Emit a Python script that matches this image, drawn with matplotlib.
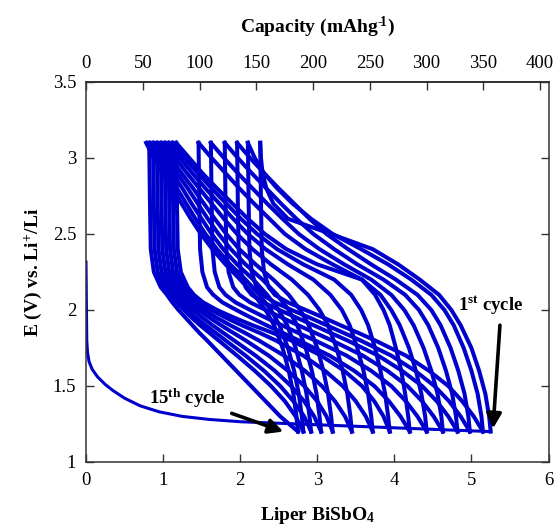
import matplotlib
matplotlib.use("Agg")
import matplotlib.pyplot as plt
from matplotlib.ticker import FuncFormatter

plt.rcParams["font.family"] = ["Liberation Serif", "DejaVu Serif"]
plt.rcParams["mathtext.fontset"] = "custom"
plt.rcParams["mathtext.rm"] = "Liberation Serif:bold"
plt.rcParams["mathtext.bf"] = "Liberation Serif:bold"
plt.rcParams["mathtext.it"] = "Liberation Serif:bold:italic"

# ---- data -------------------------------------------------------------
# mAh/g delivered per inserted Li in BiSbO4
LI_TO_MAH = 67.9

# first discharge (open circuit -> 1.2 V)
first_x = [0.00, 0.005, 0.01, 0.02, 0.04, 0.08, 0.15, 0.25, 0.35, 0.50, 0.70,
           0.95, 1.25, 1.60, 2.00, 2.50, 3.00, 3.50, 4.00, 4.50, 5.00, 5.25]
first_v = [2.32, 2.05, 1.80, 1.72, 1.66, 1.61, 1.56, 1.51, 1.47, 1.42, 1.37,
           1.33, 1.30, 1.28, 1.265, 1.255, 1.245, 1.235, 1.225, 1.215, 1.205, 1.20]

# charge curves: Li content at each voltage of charge_v, cycles 1..15
charge_v = [1.20, 1.30, 1.45, 1.60, 1.75, 1.90, 2.00, 2.10, 2.20,
            2.30, 2.40, 2.50, 2.60, 2.70, 2.80, 2.90, 3.00, 3.10]
charge_x = [
    [5.25, 5.23, 5.18, 5.10, 5.00, 4.86, 4.74, 4.58, 4.33, 4.05, 3.72, 3.18, 2.62, 2.43, 2.34, 2.29, 2.27, 2.26],
    [5.15, 5.13, 5.08, 5.00, 4.90, 4.77, 4.65, 4.48, 4.22, 3.92, 3.57, 3.20, 2.92, 2.68, 2.48, 2.31, 2.19, 2.10],
    [4.98, 4.96, 4.91, 4.83, 4.73, 4.60, 4.48, 4.30, 4.02, 3.70, 3.40, 3.12, 2.90, 2.70, 2.50, 2.31, 2.13, 1.96],
    [4.82, 4.80, 4.75, 4.67, 4.57, 4.44, 4.32, 4.14, 3.86, 3.52, 3.22, 2.95, 2.73, 2.53, 2.34, 2.15, 1.97, 1.80],
    [4.63, 4.61, 4.56, 4.48, 4.38, 4.25, 4.13, 3.96, 3.70, 3.35, 3.03, 2.76, 2.55, 2.35, 2.16, 1.97, 1.79, 1.62],
    [4.42, 4.40, 4.35, 4.28, 4.19, 4.07, 3.96, 3.82, 3.58, 3.20, 2.85, 2.58, 2.38, 2.18, 1.99, 1.81, 1.63, 1.46],
    [4.20, 4.18, 4.14, 4.09, 4.02, 3.94, 3.86, 3.75, 3.58, 3.00, 2.60, 2.32, 2.10, 1.90, 1.70, 1.51, 1.34, 1.17],
    [3.94, 3.92, 3.88, 3.82, 3.75, 3.66, 3.57, 3.44, 3.22, 2.82, 2.48, 2.22, 2.01, 1.82, 1.63, 1.45, 1.28, 1.12],
    [3.72, 3.70, 3.66, 3.60, 3.52, 3.42, 3.32, 3.17, 2.95, 2.62, 2.33, 2.10, 1.91, 1.73, 1.55, 1.38, 1.22, 1.07],
    [3.45, 3.43, 3.39, 3.33, 3.25, 3.14, 3.03, 2.88, 2.67, 2.40, 2.16, 1.96, 1.79, 1.63, 1.47, 1.31, 1.16, 1.02],
    [3.20, 3.18, 3.14, 3.08, 3.00, 2.89, 2.78, 2.63, 2.43, 2.20, 1.99, 1.82, 1.67, 1.53, 1.39, 1.24, 1.10, 0.97],
    [3.05, 3.03, 2.99, 2.93, 2.85, 2.74, 2.63, 2.48, 2.29, 2.07, 1.88, 1.72, 1.58, 1.45, 1.32, 1.18, 1.05, 0.92],
    [2.92, 2.90, 2.86, 2.80, 2.72, 2.61, 2.50, 2.35, 2.17, 1.96, 1.78, 1.63, 1.50, 1.37, 1.25, 1.12, 0.99, 0.87],
    [2.82, 2.80, 2.76, 2.70, 2.62, 2.51, 2.40, 2.25, 2.07, 1.87, 1.70, 1.55, 1.42, 1.30, 1.18, 1.05, 0.93, 0.82],
    [2.75, 2.73, 2.69, 2.63, 2.55, 2.44, 2.33, 2.18, 2.00, 1.81, 1.64, 1.49, 1.36, 1.24, 1.12, 1.00, 0.88, 0.78],
]

# discharge curves: Li content at each voltage of discharge_v, cycles 2..15
discharge_v = [3.10, 2.70, 2.40, 2.25, 2.15, 2.10, 2.05, 2.00, 1.95,
               1.90, 1.85, 1.80, 1.70, 1.60, 1.50, 1.40, 1.30, 1.20]
discharge_x = [
    [2.26, 2.27, 2.28, 2.31, 2.37, 2.45, 2.62, 2.85, 3.08, 3.30, 3.53, 3.75, 4.15, 4.45, 4.70, 4.88, 5.03, 5.15],
    [2.10, 2.11, 2.12, 2.15, 2.21, 2.29, 2.45, 2.67, 2.90, 3.12, 3.34, 3.56, 3.96, 4.27, 4.52, 4.71, 4.86, 4.98],
    [1.96, 1.97, 1.98, 2.01, 2.07, 2.15, 2.30, 2.51, 2.73, 2.95, 3.17, 3.39, 3.79, 4.10, 4.36, 4.55, 4.70, 4.82],
    [1.80, 1.81, 1.82, 1.85, 1.91, 1.99, 2.13, 2.33, 2.54, 2.75, 2.97, 3.19, 3.59, 3.91, 4.17, 4.36, 4.51, 4.63],
    [1.62, 1.63, 1.64, 1.67, 1.73, 1.81, 1.94, 2.13, 2.33, 2.54, 2.75, 2.97, 3.38, 3.70, 3.96, 4.15, 4.30, 4.42],
    [1.46, 1.47, 1.48, 1.51, 1.57, 1.65, 1.77, 1.95, 2.14, 2.34, 2.55, 2.76, 3.16, 3.48, 3.74, 3.93, 4.08, 4.20],
    [1.17, 1.18, 1.19, 1.23, 1.32, 1.40, 1.52, 1.70, 1.92, 2.16, 2.42, 2.66, 3.05, 3.35, 3.58, 3.74, 3.86, 3.94],
    [1.12, 1.13, 1.14, 1.18, 1.27, 1.35, 1.46, 1.62, 1.81, 2.02, 2.25, 2.46, 2.82, 3.10, 3.33, 3.50, 3.63, 3.72],
    [1.07, 1.08, 1.09, 1.13, 1.22, 1.30, 1.40, 1.53, 1.69, 1.87, 2.06, 2.24, 2.57, 2.84, 3.06, 3.23, 3.36, 3.45],
    [1.02, 1.03, 1.04, 1.08, 1.17, 1.25, 1.34, 1.46, 1.60, 1.75, 1.91, 2.07, 2.37, 2.62, 2.83, 3.00, 3.12, 3.20],
    [0.97, 0.98, 0.99, 1.03, 1.12, 1.20, 1.29, 1.39, 1.51, 1.64, 1.78, 1.92, 2.20, 2.45, 2.66, 2.83, 2.96, 3.05],
    [0.92, 0.93, 0.94, 0.98, 1.07, 1.15, 1.23, 1.32, 1.43, 1.55, 1.68, 1.81, 2.07, 2.31, 2.52, 2.69, 2.83, 2.92],
    [0.87, 0.88, 0.89, 0.93, 1.02, 1.10, 1.18, 1.27, 1.37, 1.48, 1.60, 1.72, 1.96, 2.19, 2.40, 2.58, 2.72, 2.82],
    [0.82, 0.83, 0.84, 0.88, 0.97, 1.05, 1.12, 1.20, 1.29, 1.38, 1.47, 1.57, 1.76, 1.95, 2.14, 2.33, 2.52, 2.75],
]

x_ticks = [0, 1, 2, 3, 4, 5, 6]
y_ticks = [1, 1.5, 2, 2.5, 3, 3.5]
cap_ticks = [0, 50, 100, 150, 200, 250, 300, 350, 400]

# ---- figure -----------------------------------------------------------
BLUE = "#0000cd"
fig = plt.figure(figsize=(5.55, 5.28), dpi=100)
ax = fig.add_axes([86 / 555, 1 - 462 / 528, (548.5 - 86) / 555, 380 / 528])

ax.plot(first_x, first_v, color=BLUE, lw=2.2, solid_capstyle="round")
for xs in charge_x:
    ax.plot(xs, charge_v, color=BLUE, lw=2.9, solid_joinstyle="round")
for xs in discharge_x:
    ax.plot(xs, discharge_v, color=BLUE, lw=2.9, solid_joinstyle="round")

ax.set_xlim(0, 6)
ax.set_ylim(1, 3.5)
ax.set_xticks(x_ticks)
ax.set_yticks(y_ticks)
ax.yaxis.set_major_formatter(FuncFormatter(lambda v, _: f"{v:g}"))
ax.tick_params(direction="in", length=6, width=1, labelsize=13.5,
               top=False, right=True, pad=7, color="#333333")
for sp in ax.spines.values():
    sp.set_linewidth(1.1)
    sp.set_color("#333333")

sec = ax.secondary_xaxis("top", functions=(lambda x: x * LI_TO_MAH,
                                           lambda c: c / LI_TO_MAH))
sec.set_xticks(cap_ticks)
sec.tick_params(direction="in", length=6, width=1, labelsize=13.5, pad=7,
                color="#333333")
sec.spines["top"].set_linewidth(1.1)
sec.set_xlabel("Capacity (mAhg$^{\u2010\\!1}$)", fontsize=14,
               fontweight="bold", labelpad=17)

ax.set_xlabel(r"Liper BiSbO$_4$", fontsize=14, fontweight="bold", labelpad=12)
ax.set_ylabel(r"E (V) vs. Li$^{+}$/Li", fontsize=14, fontweight="bold",
              labelpad=6)

# cycle labels with arrows
ax.text(5.25, 2.03, r"1$^{\mathrm{st}}$ cycle", fontsize=13.5,
        fontweight="bold", ha="center", va="center")
ax.annotate("", xy=(5.28, 1.22), xytext=(5.37, 1.90),
            arrowprops=dict(arrowstyle="-|>", color="black", lw=2.6,
                            mutation_scale=22, shrinkA=0, shrinkB=0))
ax.text(1.31, 1.42, r"15$^{\mathrm{th}}$ cycle", fontsize=13.5,
        fontweight="bold", ha="center", va="center")
ax.annotate("", xy=(2.56, 1.20), xytext=(1.89, 1.32),
            arrowprops=dict(arrowstyle="-|>", color="black", lw=2.6,
                            mutation_scale=22, shrinkA=0, shrinkB=0))

fig.savefig("out.png", dpi=100)
